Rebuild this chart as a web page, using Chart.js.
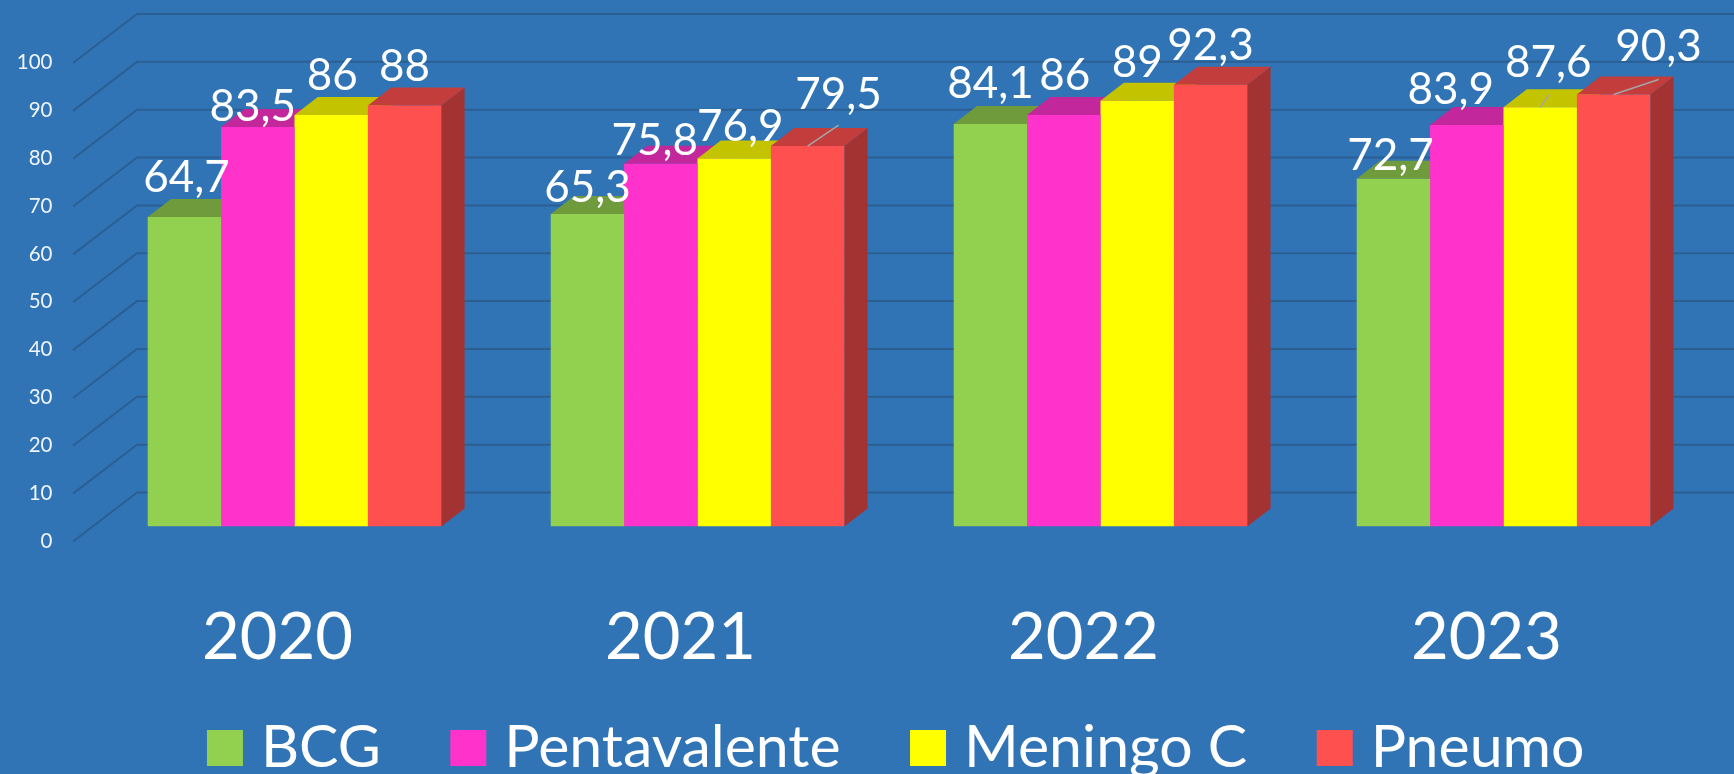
<!DOCTYPE html>
<html>
<head>
<meta charset="utf-8">
<style>
html,body{margin:0;padding:0;background:#3074b6;overflow:hidden}
canvas{display:block}
</style>
<script src="https://cdn.jsdelivr.net/npm/chart.js@4"></script>
</head>
<body>
<canvas id="c" width="1734" height="774"></canvas>
<script>
const categories = ['2020', '2021', '2022', '2023'];
const bcg = [64.7, 65.3, 84.1, 72.7];
const pentavalente = [83.5, 75.8, 86, 83.9];
const meningoC = [86, 76.9, 89, 87.6];
const pneumo = [88, 79.5, 92.3, 90.3];
const yTicks = [0, 10, 20, 30, 40, 50, 60, 70, 80, 90, 100];

const FONT = 'Lato, Carlito, "Noto Sans", sans-serif';
const frontColors = ['#92D050', '#FF33CC', '#FFFF00', '#FF5050'];
const topColors = ['#6F9B3C', '#C3279C', '#C3C300', '#C33D3D'];
const sideColors = ['#5E8534', '#A62185', '#A6A600', '#A33333'];
const GRID = '#2B5F92';
const BAR_DEPTH = {x: 23.3, y: 18};
const WALL = {frontX: -20, frontY: 15, backX: 44, backY: -34};
const LEGEND_LIFT = 49;
const LEGEND_SHIFT = 49;

// label placement relative to the top centre of each bar [dx, dy]
const labelNudges = [
  [[2, -39], [0, -26], [0, -40], [-3, -23]],
  [[-5, -20], [-6, -23], [1, -39], [-16, -35]],
  [[1, -39], [6, -32], [0, -37.5], [8, -45]],
  [[0, -39], [31, -51], [0, -39], [45, -47.5]]
];
// leader lines: series, category, end offset from the bar top centre
const leaders = [
  [3, 1, 31, -21],
  [2, 3, 8.5, -12.5],
  [3, 3, 45, -15]
];

const wallPlugin = {
  id: 'wall',
  afterLayout(chart) {
    chart.legend.top -= LEGEND_LIFT;
    chart.legend.bottom -= LEGEND_LIFT;
    chart.legend.left += LEGEND_SHIFT;
    chart.legend.right += LEGEND_SHIFT;
  },
  beforeDatasetsDraw(chart) {
    const {ctx, scales: {y}, chartArea: a} = chart;
    ctx.save();
    ctx.strokeStyle = GRID;
    ctx.lineWidth = 2;
    yTicks.forEach(v => {
      const p = y.getPixelForValue(v);
      ctx.beginPath();
      ctx.moveTo(a.left + WALL.frontX, p + WALL.frontY);
      ctx.lineTo(a.left + WALL.backX, p + WALL.backY);
      ctx.lineTo(chart.width, p + WALL.backY);
      ctx.stroke();
    });
    // side and top faces, painted left to right, fronts come after
    const n = categories.length;
    for (let c = 0; c < n; c++) {
      chart.data.datasets.forEach((ds, s) => {
        const b = chart.getDatasetMeta(s).data[c];
        const L = b.x - b.width / 2, R = b.x + b.width / 2;
        const T = b.y, B = b.base;
        const dx = BAR_DEPTH.x, dy = BAR_DEPTH.y;
        ctx.fillStyle = sideColors[s];
        ctx.beginPath();
        ctx.moveTo(R, T); ctx.lineTo(R + dx, T - dy);
        ctx.lineTo(R + dx, B - dy); ctx.lineTo(R, B);
        ctx.closePath(); ctx.fill();
        ctx.fillStyle = topColors[s];
        ctx.beginPath();
        ctx.moveTo(L, T); ctx.lineTo(L + dx, T - dy);
        ctx.lineTo(R + dx, T - dy); ctx.lineTo(R, T);
        ctx.closePath(); ctx.fill();
      });
    }
    ctx.restore();
  },
  afterDatasetsDraw(chart) {
    const {ctx} = chart;
    ctx.save();
    ctx.strokeStyle = '#A6A6A6';
    ctx.lineWidth = 1.5;
    leaders.forEach(([s, c, ex, ey]) => {
      const b = chart.getDatasetMeta(s).data[c];
      ctx.beginPath();
      ctx.moveTo(b.x, b.y);
      ctx.lineTo(b.x + ex, b.y + ey);
      ctx.stroke();
    });
    ctx.fillStyle = '#FFFFFF';
    ctx.font = '44px ' + FONT;
    ctx.textAlign = 'center';
    ctx.textBaseline = 'middle';
    chart.data.datasets.forEach((ds, s) => {
      chart.getDatasetMeta(s).data.forEach((b, c) => {
        const [dx, dy] = labelNudges[s][c];
        ctx.fillText(String(ds.data[c]).replace('.', ','), b.x + dx, b.y + dy);
      });
    });
    ctx.restore();
  }
};

new Chart(document.getElementById('c'), {
  type: 'bar',
  data: {
    labels: categories,
    datasets: [
      {label: 'BCG', data: bcg, backgroundColor: frontColors[0]},
      {label: 'Pentavalente', data: pentavalente, backgroundColor: frontColors[1]},
      {label: 'Meningo C', data: meningoC, backgroundColor: frontColors[2]},
      {label: 'Pneumo', data: pneumo, backgroundColor: frontColors[3]}
    ]
  },
  plugins: [wallPlugin],
  options: {
    responsive: false,
    animation: false,
    layout: {padding: {top: 48, right: 29, left: 0, bottom: -62.5}},
    datasets: {bar: {categoryPercentage: 0.7285, barPercentage: 1, borderWidth: 0}},
    scales: {
      x: {
        grid: {display: false, drawTicks: false},
        border: {display: false},
        afterFit(s) { s.height = 160; },
        ticks: {
          color: '#FFFFFF',
          font: {family: FONT, size: 65},
          padding: 72.5,
          labelOffset: -17,
          autoSkip: false,
          maxRotation: 0,
          minRotation: 0
        }
      },
      y: {
        min: 0,
        max: 100,
        afterBuildTicks(s) { s.ticks = yTicks.map(value => ({value})); },
        afterFit(s) { s.width = 93; s.paddingTop = 0; s.paddingBottom = 0; },
        grid: {display: false, drawTicks: false},
        border: {display: false},
        ticks: {
          color: '#EEF4FA',
          font: {family: FONT, size: 20.5},
          padding: 40.5,
          labelOffset: 14.5
        }
      }
    },
    plugins: {
      tooltip: {enabled: false},
      legend: {
        display: true,
        position: 'bottom',
        labels: {
          color: '#FFFFFF',
          font: {family: FONT, size: 59},
          usePointStyle: true,
          pointStyle: 'rect',
          boxWidth: 13,
          boxHeight: 36,
          padding: 81
        }
      }
    }
  }
});
</script>
</body>
</html>
